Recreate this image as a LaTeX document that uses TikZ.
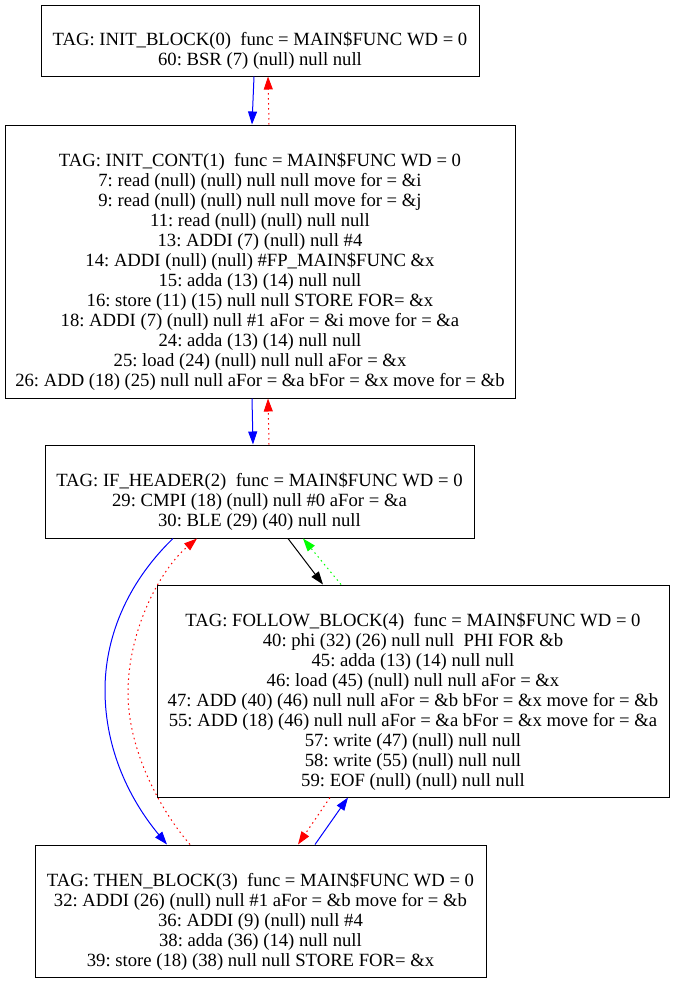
\documentclass[tikz,border=0pt]{standalone}
\usepackage{fontspec}
\setmainfont{Liberation Serif}
\usetikzlibrary{arrows.meta,positioning}
\frenchspacing

\begin{document}
\begin{tikzpicture}[
  x=1pt, y=-1pt,
  font=\fontsize{18.67}{20}\selectfont,
  % --- estilos de los bloques ---
  block/.style={
    rectangle,
    draw=black,
    line width=1pt,
    align=center,
    inner sep=0pt
  },
  tip/.style={-{Triangle[length=13pt,width=9pt]}},
  flow/.style={tip, line width=1pt, draw=blue},
  back/.style={tip, line width=1pt, draw=red, dash pattern=on 1.5pt off 3.5pt},
  jump/.style={tip, line width=1pt, draw=black},
  fall/.style={tip, line width=1pt, draw=green, dash pattern=on 1.5pt off 3.5pt}
]
\useasboundingbox (0,0) rectangle (675,983);

% ---- BLOQUES ----
\node[block, minimum width=438pt, minimum height=71pt] (init) at (260,40.5)
  {\strut\\TAG: INIT\_BLOCK(0)\ \ func = MAIN\$FUNC WD = 0\\
   60: BSR (7) (null) null null};

\node[block, minimum width=510pt, minimum height=273pt] (cont) at (260,261.5)
  {\strut\\TAG: INIT\_CONT(1)\ \ func = MAIN\$FUNC WD = 0\\
   7: read (null) (null) null null move for = \&i\\
   9: read (null) (null) null null move for = \&j\\
   11: read (null) (null) null null\\
   13: ADDI (7) (null) null \#4\\
   14: ADDI (null) (null) \#FP\_MAIN\$FUNC \&x\\
   15: adda (13) (14) null null\\
   16: store (11) (15) null null STORE FOR= \&x\\
   18: ADDI (7) (null) null \#1 aFor = \&i move for = \&a\\
   24: adda (13) (14) null null\\
   25: load (24) (null) null null aFor = \&x\\
   26: ADD (18) (25) null null aFor = \&a bFor = \&x move for = \&b};

\node[block, minimum width=429pt, minimum height=93pt] (ifhead) at (259.5,491.5)
  {\strut\\TAG: IF\_HEADER(2)\ \ func = MAIN\$FUNC WD = 0\\
   29: CMPI (18) (null) null \#0 aFor = \&a\\
   30: BLE (29) (40) null null};

\node[block, minimum width=512pt, minimum height=212pt] (follow) at (413,691)
  {\strut\\TAG: FOLLOW\_BLOCK(4)\ \ func = MAIN\$FUNC WD = 0\\
   40: phi (32) (26) null null\ \ PHI FOR \&b\\
   45: adda (13) (14) null null\\
   46: load (45) (null) null null aFor = \&x\\
   47: ADD (40) (46) null null aFor = \&b bFor = \&x move for = \&b\\
   55: ADD (18) (46) null null aFor = \&a bFor = \&x move for = \&a\\
   57: write (47) (null) null null\\
   58: write (55) (null) null null\\
   59: EOF (null) (null) null null};

\node[block, minimum width=451pt, minimum height=132pt] (thenb) at (260.5,911)
  {\strut\\TAG: THEN\_BLOCK(3)\ \ func = MAIN\$FUNC WD = 0\\
   32: ADDI (26) (null) null \#1 aFor = \&b move for = \&b\\
   36: ADDI (9) (null) null \#4\\
   38: adda (36) (14) null null\\
   39: store (18) (38) null null STORE FOR= \&x};

% ---- CONEXIONES ----
\draw[flow] ([xshift=-6pt]init.south) -- ([xshift=-8pt]cont.north);
\draw[back] ([xshift=9pt]cont.north) -- ([xshift=8pt]init.south);

\draw[flow] ([xshift=-8pt]cont.south) -- ([xshift=-6.5pt]ifhead.north);
\draw[back] ([xshift=9.5pt]ifhead.north) -- ([xshift=8pt]cont.south);

% rama then (curvas por la izquierda)
\draw[flow] ([xshift=-86.5pt]ifhead.south) .. controls (125,585) and (105,640) .. (105,690)
  .. controls (105,750) and (130,800) .. ([xshift=-93.5pt]thenb.north);
\draw[back] ([xshift=-70.5pt]thenb.north) .. controls (160,810) and (128,750) .. (128,693)
  .. controls (128,630) and (160,570) .. ([xshift=-62.5pt]ifhead.south);

% rama follow
\draw[jump] ([xshift=28.5pt]ifhead.south) -- ([xshift=-90pt]follow.north);
\draw[fall] ([xshift=-72pt]follow.north) -- ([xshift=43.5pt]ifhead.south);

\draw[back] ([xshift=-83pt]follow.south) -- ([xshift=37.5pt]thenb.north);
\draw[flow] ([xshift=54.5pt]thenb.north) -- ([xshift=-65pt]follow.south);

\end{tikzpicture}
\end{document}
